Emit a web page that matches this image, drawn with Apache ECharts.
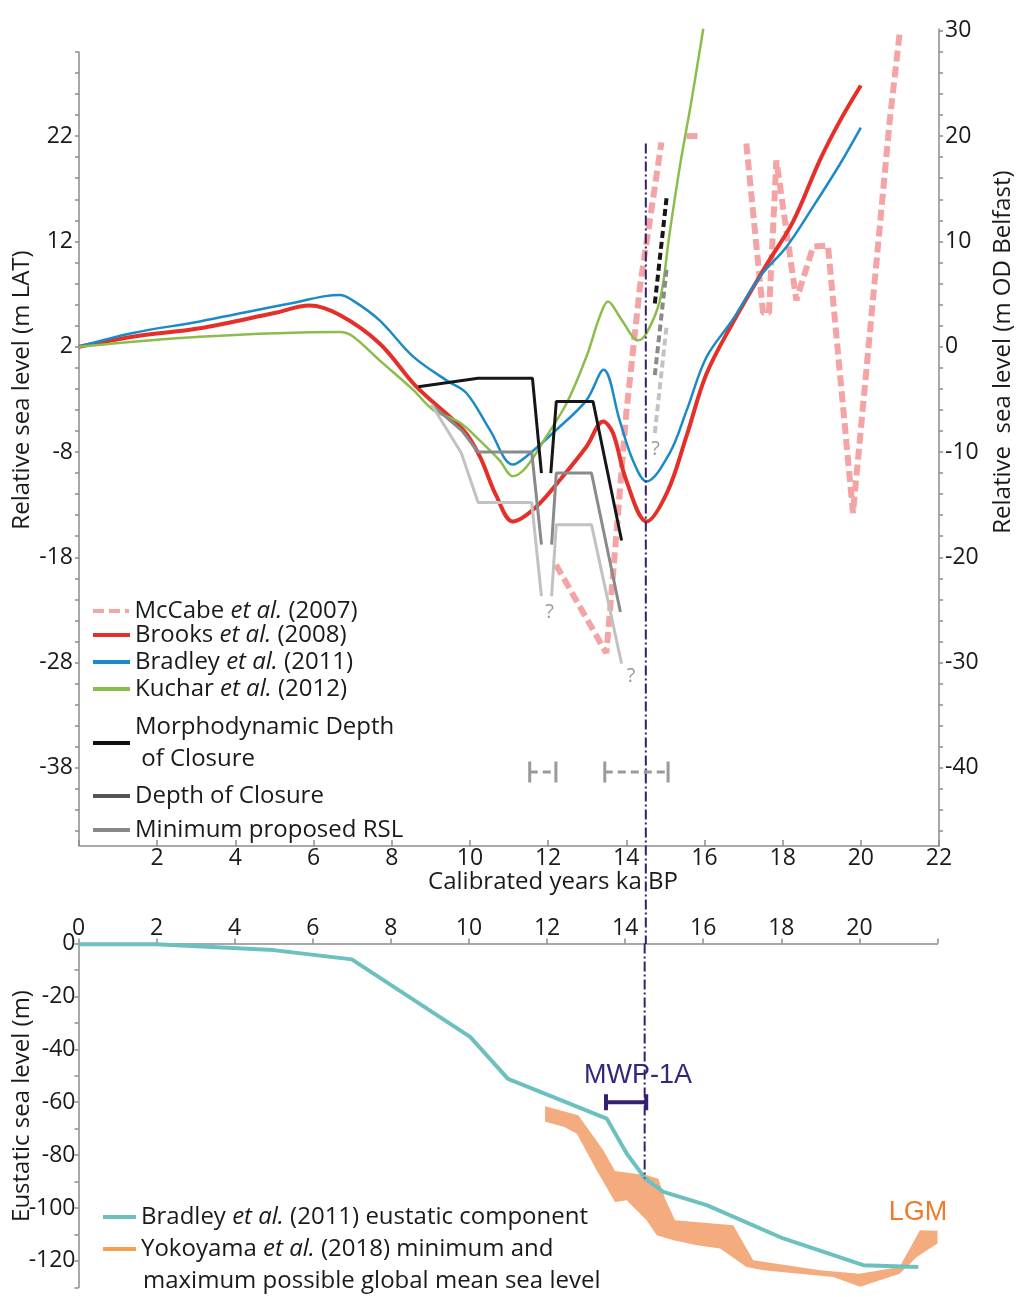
<!DOCTYPE html>
<html><head><meta charset="utf-8">
<script src="https://cdn.jsdelivr.net/npm/echarts@6/dist/echarts.min.js"></script>
<style>html,body{margin:0;padding:0;background:#fff}#c{width:1020px;height:1297px}</style>
</head><body><div id="c"></div>
<script>
// ---------- data (x = ka BP, y = m LAT in top panel, m in bottom panel) ----------
const xTicks = [0,2,4,6,8,10,12,14,16,18,20,22];
const leftTickLabels = [-38,-28,-18,-8,2,12,22];
const rightTickLabels = [-40,-30,-20,-10,0,10,20,30];
const eustTickLabels = [0,-20,-40,-60,-80,-100,-120];

const mccabeA = [[12.2,-18.7],[13.49,-27.1],[13.58,-23.3],[14.0,-4.3],[14.35,7.7],[14.9,21.4]];
const mccabeB = [[15.54,22.0],[15.88,22.0]];
const mccabeC = [[17.07,21.3],[17.5,5.2],[17.65,5.2],[17.84,19.7],[18.35,6.4],[18.78,11.5],[19.16,11.6],[19.8,-13.8],[20.43,11.2],[20.74,23.5],[21.0,32.0]];

const brooks = [[0,2],[1.38,2.95],[3.09,3.75],[5.0,5.2],[5.9,5.9],[6.67,5.0],[7.69,2.3],[8.63,-1.8],[9.83,-5.9],[10.25,-8.4],[10.68,-12.2],[11.1,-14.6],[11.7,-13.2],[12.38,-10.3],[12.98,-7.5],[13.41,-5.1],[13.66,-6.2],[14.0,-10.7],[14.52,-14.6],[15.05,-11.8],[15.54,-6.5],[16.05,-0.6],[16.73,4.3],[17.59,9.8],[18.27,13.9],[18.95,19.7],[19.46,23.4],[20.0,26.8]];
const bradley = [[0,2],[1.38,3.3],[3.09,4.4],[5.65,6.3],[6.3,6.8],[6.67,6.9],[7.0,6.4],[7.69,4.5],[8.55,1.05],[9.4,-1.2],[9.91,-2.4],[10.51,-5.9],[11.1,-9.2],[11.45,-8.4],[12.21,-5.9],[12.98,-3.1],[13.42,-0.2],[13.83,-5.0],[14.17,-8.8],[14.52,-10.8],[15.11,-8.1],[15.54,-4.1],[16.05,1.0],[16.73,4.6],[17.41,8.6],[18.1,11.5],[18.78,15.3],[19.46,19.3],[20.0,22.8]];
const kuchar = [[0,2],[3.09,2.95],[6.67,3.4],[7.0,3.0],[7.69,0.7],[8.55,-2.1],[9.06,-4.0],[9.74,-5.2],[10.25,-6.9],[10.76,-8.8],[11.1,-10.3],[11.45,-9.4],[11.96,-6.5],[12.47,-3.4],[12.98,1.05],[13.32,4.85],[13.53,6.3],[13.83,4.85],[14.17,2.9],[14.3,2.6],[14.52,3.3],[14.86,6.4],[15.11,12.8],[15.37,19.1],[15.67,25.4],[15.97,32.2]];

const morphA = [[8.68,-1.8],[10.21,-1.0],[11.6,-1.0],[11.83,-10.0]];
const morphB = [[12.07,-10.0],[12.21,-3.2],[13.15,-3.2],[13.88,-16.4]];
const morphDash = [[14.73,6.1],[15.03,16.1]];
const docA = [[9.02,-3.5],[9.8,-6.0],[10.21,-8.0],[11.58,-8.0],[11.83,-16.8]];
const docB = [[12.09,-16.8],[12.21,-10.0],[13.11,-10.0],[13.85,-23.2]];
const docDash = [[14.73,-0.7],[15.03,9.3]];
const rslA = [[9.02,-3.5],[9.78,-8.1],[10.21,-12.8],[11.58,-12.8],[11.83,-21.7]];
const rslB = [[12.09,-21.7],[12.21,-14.9],[13.11,-14.9],[13.88,-28.1]];
const rslDash = [[14.73,-6.2],[15.03,3.9]];

const ageBars = [[11.53,12.2,-38.4],[13.45,15.07,-38.4]]; // [from, to, level]
const questionMarks = [[12.04,-23.2],[14.12,-29.3],[14.75,-7.7]];
const mwpAge = 14.5;
const mwpTopLevel = 21.3;

const eustatic = [[0,-0.3],[1.97,-0.3],[4.99,-2.5],[7.0,-6.0],[10.03,-35.3],[11.0,-51.2],[13.53,-66.2],[14.04,-79.4],[14.51,-88.8],[14.98,-93.9],[16.09,-98.9],[18.05,-111.5],[20.1,-121.6],[21.51,-122.3]];
const yokoUpper = [[11.95,-61.5],[12.8,-64.9],[13.44,-78.2],[13.74,-86.0],[14.55,-87.6],[14.85,-88.9],[15.02,-96.4],[15.28,-104.6],[16.77,-106.5],[17.28,-119.7],[18.99,-123.5],[20.0,-124.8],[21.03,-122.3],[21.55,-108.4],[22.0,-108.6]];
const yokoLower = [[11.95,-67.4],[12.43,-69.3],[12.76,-71.8],[13.27,-85.7],[13.74,-97.7],[14.04,-97.1],[14.55,-104.6],[14.81,-110.3],[15.24,-112.2],[15.84,-114.1],[16.43,-115.3],[17.11,-122.3],[17.54,-123.5],[19.33,-126.1],[20.02,-129.8],[21.03,-124.8],[21.47,-118.5],[22.0,-113.4]];
const mwpBar = [13.51,14.54,-60];
const mwpLabel = [14.33,-49.8];
const lgmLabel = [21.5,-101.6];

// ---------- axes extents ----------
const L_MIN = -45.42, L_MAX = 32.17, L_LINE_TOP = 30;
const R_MIN = -47.42, R_MAX = 30.17;
const E_MIN = -130, E_MAX = 0;

const FONT = '"Open Sans", sans-serif';
const AX = '#8c8c8c';
const TXT = '#1a1a1a';
const PINK = '#f4a4a4', RED = '#e5302a', BLUE = '#1b8ac9', GREEN = '#8bbd4c';
const BLACK = '#161616', GRAY = '#8a8a8a', LGRAY = '#c2c2c2', PURPLE = '#35206e';
const TEAL = '#6cc0c0', ORANGE = '#f4ab7e';

function range(a,b,s){const r=[];for(let v=a;v<=b+1e-9;v+=s)r.push(+v.toFixed(6));return r;}

const chart = echarts.init(document.getElementById('c'), null, {renderer:'canvas'});
const series = [];
function seg(name, data, color, width, type, extra){
  series.push(Object.assign({type:'line', name, data, xAxisIndex:0, yAxisIndex:0, symbol:'none', silent:true,
    lineStyle:{color, width, type: type||'solid'}, itemStyle:{color}, z:3}, extra||{}));
}
// left axis line (only up to 30)
seg('_laxis', [[0,L_MIN],[0,L_LINE_TOP]], AX, 1.5, 'solid', {clip:false, z:1});

seg('McCabe et al. (2007)', mccabeA, PINK, 6, [11,5], {z:2});
seg('McCabe et al. (2007)', mccabeB, PINK, 6, [11,5], {z:2});
seg('McCabe et al. (2007)', mccabeC, PINK, 6, [11,5], {z:2});
seg('Brooks et al. (2008)', brooks, RED, 4, 'solid', {smooth:0.35});
seg('Bradley et al. (2011)', bradley, BLUE, 2.5, 'solid', {smooth:0.35});
seg('Kuchar et al. (2012)', kuchar, GREEN, 2.5, 'solid', {smooth:0.35});
seg('Morphodynamic Depth of Closure', morphA, BLACK, 3);
seg('Morphodynamic Depth of Closure', morphB, BLACK, 3);
seg('Morphodynamic Depth of Closure', morphDash, BLACK, 4, [7,4]);
seg('Depth of Closure', docA, GRAY, 3);
seg('Depth of Closure', docB, GRAY, 3);
seg('Depth of Closure', docDash, GRAY, 4, [7,4]);
seg('Minimum proposed RSL', rslA, LGRAY, 3);
seg('Minimum proposed RSL', rslB, LGRAY, 3);
seg('Minimum proposed RSL', rslDash, LGRAY, 4, [7,4]);
ageBars.forEach((b,i)=>{
  seg('_age'+i, [[b[0],b[2]],[b[1],b[2]]], '#9a9a9a', 3, [8,5]);
  seg('_agecapL'+i, [[b[0],b[2]-1],[b[0],b[2]+1]], '#9a9a9a', 3);
  seg('_agecapR'+i, [[b[1],b[2]-1],[b[1],b[2]+1]], '#9a9a9a', 3);
});
series.push({type:'scatter', name:'_q', xAxisIndex:0, yAxisIndex:0, data:questionMarks, symbolSize:0, silent:true,
  itemStyle:{opacity:1},
  label:{show:true, position:'inside', formatter:'?', color:'#9a9a9a', fontSize:20, fontFamily:FONT}});
// MWP-1A vertical line, top panel part (continues through the gap between panels)
seg('_mwp', [[mwpAge,mwpTopLevel],[mwpAge,L_MIN-9.3]], PURPLE, 2, [10,3,2,3], {clip:false, z:5});

// bottom panel
function bseg(name, data, color, width, type, extra){
  series.push(Object.assign({type:'line', name, data, xAxisIndex:1, yAxisIndex:2, symbol:'none', silent:true,
    lineStyle:{color, width, type: type||'solid'}, itemStyle:{color}, z:3}, extra||{}));
}
series.push({type:'custom', name:'Yokoyama et al. (2018) minimum and maximum possible global mean sea level',
  xAxisIndex:1, yAxisIndex:2, data:[[yokoUpper[0][0], yokoUpper[0][1]]], silent:true, z:2,
  itemStyle:{color:'#f5a04c'},
  renderItem:(params, api)=>{
    const pts = yokoUpper.map(p=>api.coord(p)).concat(yokoLower.slice().reverse().map(p=>api.coord(p)));
    return {type:'polygon', shape:{points:pts}, style:{fill:ORANGE}};
  }});
bseg('Bradley et al. (2011) eustatic component', eustatic, TEAL, 4);
bseg('_mwp2', [[mwpAge,0],[mwpAge,eustatic[8][1]]], PURPLE, 2, [10,3,2,3], {z:5});
bseg('_mwpbar', [[mwpBar[0],mwpBar[2]],[mwpBar[1],mwpBar[2]]], PURPLE, 4);
bseg('_mwpcapL', [[mwpBar[0],mwpBar[2]-3],[mwpBar[0],mwpBar[2]+3]], PURPLE, 4);
bseg('_mwpcapR', [[mwpBar[1],mwpBar[2]-3],[mwpBar[1],mwpBar[2]+3]], PURPLE, 4);
series.push({type:'scatter', name:'_lbl', xAxisIndex:1, yAxisIndex:2, symbolSize:0, silent:true, z:6,
  itemStyle:{opacity:1},
  data:[{value:mwpLabel, label:{formatter:'MWP-1A', color:'#3a2678'}}, {value:lgmLabel, label:{formatter:'LGM', color:'#f07a2c'}}],
  label:{show:true, position:'inside', fontSize:27, fontFamily:'"Liberation Sans", Arial, sans-serif'}});

// legends
const FS = 24;
const fmt = n => n.replace('et al.', '{i|et al.}');
const DASH_ICON = 'path://M0 0H11V4H0Z M16 0H27V4H16Z M32 0H36V4H32Z';
function lg(name, color, cy, opts){
  opts = opts || {};
  const lh = opts.lh || 26, lines = opts.lines || 1;
  const item = {name, icon: opts.icon || 'rect', itemStyle:{color}};
  return {data:[item], left: opts.left || 93, top: cy - lh*lines/2, padding:0,
    itemWidth: opts.w || 37, itemHeight: 4, selectedMode:false,
    formatter: opts.formatter || fmt,
    textStyle:{fontSize:FS, fontFamily:FONT, color:TXT, lineHeight:lh,
      rich:{i:{fontStyle:'italic', fontSize:FS, fontFamily:FONT, color:TXT, lineHeight:lh}}}};
}
const legends = [
  lg('McCabe et al. (2007)', PINK, 611, {icon:DASH_ICON}),
  lg('Brooks et al. (2008)', RED, 635),
  lg('Bradley et al. (2011)', BLUE, 662),
  lg('Kuchar et al. (2012)', GREEN, 689),
  lg('Morphodynamic Depth of Closure', '#111', 743, {lh:32, lines:2, formatter:()=>'Morphodynamic Depth\n of Closure'}),
  lg('Depth of Closure', '#555', 796),
  lg('Minimum proposed RSL', '#888', 830),
  lg('Bradley et al. (2011) eustatic component', TEAL, 1217, {left:103, w:33}),
  lg('Yokoyama et al. (2018) minimum and maximum possible global mean sea level', '#f5a04c', 1249,
     {left:103, w:33, formatter:()=>'Yokoyama {i|et al.} (2018) minimum and'})
];

const axLabel = {fontSize:23, fontFamily:FONT, color:TXT};
const NAMEFONT = FS + 'px "Open Sans"';
const option = {
  animation:false,
  backgroundColor:'#fff',
  grid:[
    {left:79, top:29, width:860, height:817},
    {left:78.5, top:943.5, width:859, height:343.9}
  ],
  xAxis:[
    {type:'value', gridIndex:0, min:0, max:22, interval:2,
      axisLine:{onZero:false, lineStyle:{color:AX, width:1.5}},
      axisTick:{inside:true, length:6, lineStyle:{color:AX, width:1.5}},
      axisLabel:Object.assign({margin:1, customValues:xTicks.filter(v=>v>0)}, axLabel),
      splitLine:{show:false}},
    {type:'value', gridIndex:1, position:'top', min:0, max:22, interval:2,
      axisLine:{onZero:false, lineStyle:{color:AX, width:1.5}},
      axisTick:{length:5, lineStyle:{color:AX, width:1.5}},
      axisLabel:Object.assign({margin:4, customValues:xTicks.filter(v=>v<22)}, axLabel),
      splitLine:{show:false}}
  ],
  yAxis:[
    {type:'value', gridIndex:0, position:'left', min:L_MIN, max:L_MAX,
      axisLine:{show:false, onZero:false},
      axisTick:{show:true, length:4, customValues:range(-44,30,2), lineStyle:{color:AX, width:1.5}},
      axisLabel:Object.assign({margin:6, customValues:leftTickLabels}, axLabel),
      splitLine:{show:false}},
    {type:'value', gridIndex:0, position:'right', min:R_MIN, max:R_MAX,
      axisLine:{show:true, onZero:false, lineStyle:{color:AX, width:1.5}},
      axisTick:{show:true, length:4, customValues:range(-46,30,2), lineStyle:{color:AX, width:1.5}},
      axisLabel:Object.assign({margin:6, customValues:rightTickLabels}, axLabel),
      splitLine:{show:false}},
    {type:'value', gridIndex:1, position:'left', min:E_MIN, max:E_MAX, interval:10,
      axisLine:{show:true, onZero:false, lineStyle:{color:AX, width:1.5}},
      axisTick:{show:true, length:4, lineStyle:{color:AX, width:1.5}},
      axisLabel:Object.assign({margin:3, customValues:eustTickLabels}, axLabel),
      splitLine:{show:false}}
  ],
  legend: legends,
  graphic:[
    {type:'text', x:22, y:390, rotation:Math.PI/2, style:{text:'Relative sea level (m LAT)', font:NAMEFONT, fill:TXT, align:'center', verticalAlign:'middle'}},
    {type:'text', x:1003, y:352, rotation:Math.PI/2, style:{text:'Relative  sea level (m OD Belfast)', font:NAMEFONT, fill:TXT, align:'center', verticalAlign:'middle'}},
    {type:'text', x:553, y:882, style:{text:'Calibrated years ka BP', font:NAMEFONT, fill:TXT, align:'center', verticalAlign:'middle'}},
    {type:'text', x:22, y:1106, rotation:Math.PI/2, style:{text:'Eustatic sea level (m)', font:NAMEFONT, fill:TXT, align:'center', verticalAlign:'middle'}},
    {type:'text', x:143, y:1281, style:{text:'maximum possible global mean sea level', font:NAMEFONT, fill:TXT, align:'left', verticalAlign:'middle'}}
  ],
  series
};
chart.setOption(option);
</script></body></html>
